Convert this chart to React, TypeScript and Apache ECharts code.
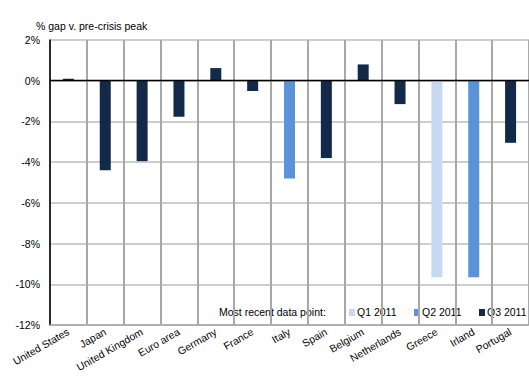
import React, { useEffect, useRef } from "react";
import * as echarts from "echarts";

const categories = [
  "United States", "Japan", "United Kingdom", "Euro area", "Germany", "France",
  "Italy", "Spain", "Belgium", "Netherlands", "Greece", "Irland", "Portugal",
];
const q1Values: (number | null)[] = [null, null, null, null, null, null, null, null, null, null, -9.65, null, null];
const q2Values: (number | null)[] = [null, null, null, null, null, null, -4.8, null, null, null, null, -9.65, null];
const q3Values: (number | null)[] = [0.1, -4.4, -3.95, -1.77, 0.62, -0.5, null, -3.8, 0.8, -1.15, null, null, -3.05];
const seriesNames = ["Q1 2011", "Q2 2011", "Q3 2011"];
const yTicks = { min: -12, max: 2, interval: 2 };
const titleText = "% gap v. pre-crisis peak";
const legendLabel = "Most recent data point:";

const FONT = "'Liberation Sans', Arial, sans-serif";
const FS = 10.5;
const colors = ["#c6d9f1", "#5a93d7", "#13294a"];
const GRID_COLOR = "#bdbdbd";
const VGRID_COLOR = "#a8a8a8";

export default function App() {
  const ref = useRef<HTMLDivElement>(null);
  useEffect(() => {
    if (!ref.current) return;
    const chart = echarts.init(ref.current, null, { renderer: "svg" });
    const data = [q1Values, q2Values, q3Values];
    const legendX = [349, 414, 479];
    const legendGraphics: any[] = [
      {
        type: "text",
        x: 219,
        y: 312,
        style: { text: legendLabel, fontSize: FS, fill: "#000", fontFamily: FONT, verticalAlign: "middle" },
      },
    ];
    seriesNames.forEach((n, i) => {
      legendGraphics.push({
        type: "rect",
        shape: { x: legendX[i], y: 309, width: 6, height: 7 },
        style: { fill: colors[i] },
      });
      legendGraphics.push({
        type: "text",
        x: legendX[i] + 8,
        y: 312,
        style: { text: n, fontSize: FS, fill: "#000", fontFamily: FONT, verticalAlign: "middle" },
      });
    });
    const barSeries = data.map((d, i) => ({
      name: seriesNames[i],
      type: "bar",
      stack: "all",
      data: d,
      barWidth: 11,
      z: 3,
      itemStyle: { color: colors[i] },
      markLine: i === 2
        ? {
            silent: true,
            symbol: "none",
            label: { show: false },
            lineStyle: { color: "#000", width: 1.3, type: "solid" },
            data: [{ yAxis: 0 }],
          }
        : undefined,
    }));
    chart.setOption({
      animation: false,
      textStyle: { fontFamily: FONT },
      grid: { left: 50, top: 40, right: -10, bottom: 52, containLabel: false },
      title: {
        text: titleText,
        left: 31,
        top: 15,
        textStyle: { fontSize: FS, fontWeight: "normal", color: "#000", fontFamily: FONT },
      },
      graphic: legendGraphics,
      xAxis: {
        type: "category",
        data: categories,
        axisLine: { onZero: false, lineStyle: { color: "#a6a6a6", width: 1.5 } },
        axisTick: { show: false },
        splitLine: { show: true, interval: 0, lineStyle: { color: VGRID_COLOR, width: 2 } },
        axisLabel: { rotate: 30, interval: 0, fontSize: FS, color: "#000", margin: 6 },
      },
      yAxis: {
        type: "value",
        min: yTicks.min,
        max: yTicks.max,
        interval: yTicks.interval,
        axisLine: { show: true, lineStyle: { color: "#000", width: 1.5 } },
        axisTick: { show: false },
        splitLine: { show: true, lineStyle: { color: GRID_COLOR, width: 1.5 } },
        axisLabel: { formatter: "{value}%", fontSize: FS, color: "#000", margin: 10 },
      },
      series: barSeries,
    });
    return () => chart.dispose();
  }, []);
  return <div ref={ref} style={{ width: 529, height: 377, position: "absolute", left: 0, top: 0 }} />;
}
